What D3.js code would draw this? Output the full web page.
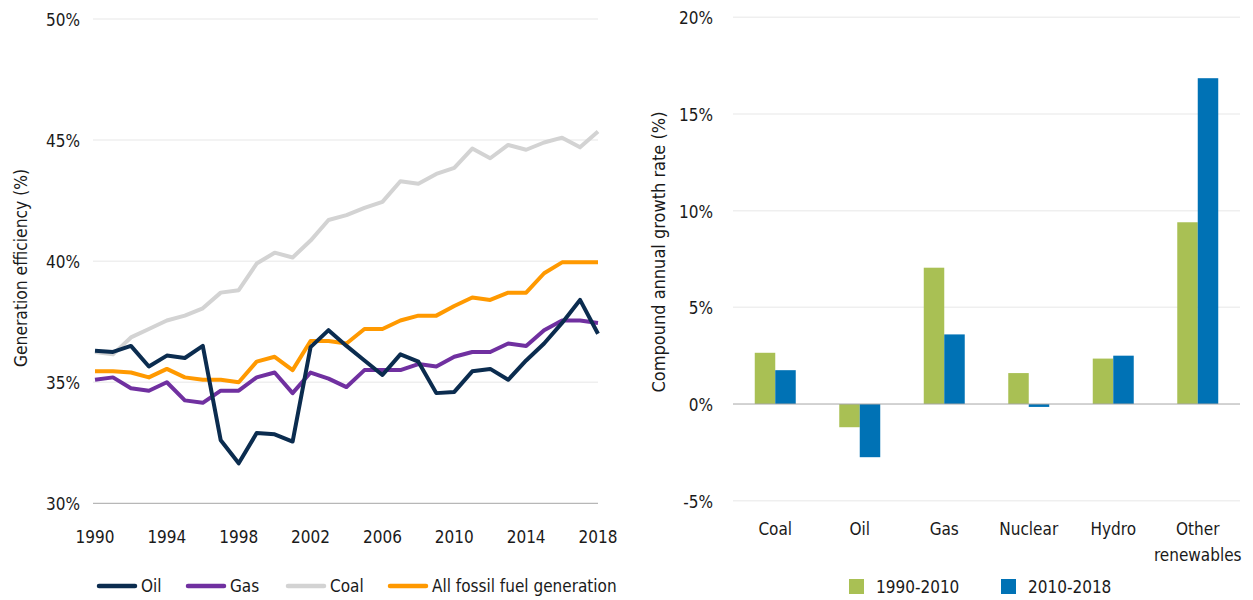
<!DOCTYPE html>
<html>
<head>
<meta charset="utf-8">
<style>
  body { margin: 0; background: #fff; }
  svg { display: block; font-family: "DejaVu Sans Condensed", "Liberation Sans Narrow", sans-serif; }
</style>
</head>
<body>
<svg width="1253" height="600"></svg>
<script src="https://d3js.org/d3.v7.min.js"></script>
<script>
// ---- data: generation efficiency (%) ----
var years = d3.range(1990, 2019);
var oil = [36.3, 36.25, 36.5, 35.65, 36.1, 36.0, 36.5, 32.6, 31.65, 32.9, 32.85, 32.55, 36.45, 37.15,
           36.5, 35.9, 35.3, 36.15, 35.85, 34.55, 34.6, 35.45, 35.55, 35.1, 35.9, 36.6, 37.45, 38.4, 37.0];
var gas = [35.1, 35.2, 34.75, 34.65, 35.0, 34.25, 34.15, 34.65, 34.65, 35.2, 35.4, 34.55, 35.4, 35.15,
           34.8, 35.5, 35.5, 35.5, 35.75, 35.65, 36.05, 36.25, 36.25, 36.6, 36.5, 37.15, 37.55, 37.55, 37.45];
var coal = [36.25, 36.15, 36.85, 37.2, 37.55, 37.75, 38.05, 38.7, 38.8, 39.9, 40.35, 40.15, 40.85, 41.7,
            41.9, 42.2, 42.45, 43.3, 43.2, 43.6, 43.85, 44.65, 44.25, 44.8, 44.6, 44.9, 45.1, 44.7, 45.35];
var fossil = [35.45, 35.45, 35.4, 35.2, 35.55, 35.2, 35.1, 35.1, 35.0, 35.85, 36.05, 35.5, 36.7, 36.7,
              36.6, 37.2, 37.2, 37.55, 37.75, 37.75, 38.15, 38.5, 38.4, 38.7, 38.7, 39.5, 39.95, 39.95, 39.95];
var yearTicks = [1990, 1994, 1998, 2002, 2006, 2010, 2014, 2018];
var effTicks = [30, 35, 40, 45, 50];

// ---- data: compound annual growth rate (%) ----
var sources = ["Coal", "Oil", "Gas", "Nuclear", "Hydro", "Other renewables"];
var periods = ["1990-2010", "2010-2018"];
var growth9010 = [2.65, -1.2, 7.05, 1.6, 2.35, 9.4];
var growth1018 = [1.75, -2.75, 3.6, -0.15, 2.5, 16.85];
var growthTicks = [-5, 0, 5, 10, 15, 20];

var svg = d3.select("svg");
var fontSize = 17;
var textColor = "#1a1a1a";

// ================= left chart =================
var x = d3.scaleLinear().domain([1990, 2018]).range([95, 598]);
var y = d3.scaleLinear().domain([30, 50]).range([503.3, 19]);

var gl = svg.append("g");

gl.selectAll("line.grid")
  .data(effTicks.filter(function(d) { return d > 30; }))
  .enter().append("line")
    .attr("x1", 93).attr("x2", 598)
    .attr("y1", function(d) { return y(d); })
    .attr("y2", function(d) { return y(d); })
    .attr("stroke", "#efefef")
    .attr("stroke-width", 1.5);

gl.append("line")
    .attr("x1", 93).attr("x2", 598)
    .attr("y1", y(30)).attr("y2", y(30))
    .attr("stroke", "#a6a6a6")
    .attr("stroke-width", 1);

gl.selectAll("text.ytick")
  .data(effTicks)
  .enter().append("text")
    .attr("x", 80)
    .attr("y", function(d) { return y(d); })
    .attr("dy", "0.42em")
    .attr("text-anchor", "end")
    .attr("font-size", fontSize)
    .attr("fill", textColor)
    .text(function(d) { return d + "%"; });

gl.selectAll("text.xtick")
  .data(yearTicks)
  .enter().append("text")
    .attr("x", function(d) { return x(d); })
    .attr("y", 543)
    .attr("text-anchor", "middle")
    .attr("font-size", fontSize)
    .attr("fill", textColor)
    .text(function(d) { return d; });

gl.append("text")
    .attr("transform", "translate(27,268) rotate(-90)")
    .attr("text-anchor", "middle")
    .attr("font-size", 17.3)
    .attr("fill", textColor)
    .text("Generation efficiency (%)");

var lineSeries = [
  { name: "Coal", values: coal, color: "#d3d3d3" },
  { name: "All fossil fuel generation", values: fossil, color: "#ff9900" },
  { name: "Gas", values: gas, color: "#7030a0" },
  { name: "Oil", values: oil, color: "#0b2c4f" }
];

var line = d3.line()
    .x(function(d, i) { return x(years[i]); })
    .y(function(d) { return y(d); });

gl.selectAll("path.series")
  .data(lineSeries)
  .enter().append("path")
    .attr("fill", "none")
    .attr("stroke", function(d) { return d.color; })
    .attr("stroke-width", 4)
    .attr("stroke-linejoin", "round")
    .attr("d", function(d) { return line(d.values); });

// legend
var legendItems = [
  { name: "Oil", color: "#0b2c4f", x: 99 },
  { name: "Gas", color: "#7030a0", x: 188 },
  { name: "Coal", color: "#d3d3d3", x: 288 },
  { name: "All fossil fuel generation", color: "#ff9900", x: 390 }
];
var lg = gl.selectAll("g.leg")
  .data(legendItems)
  .enter().append("g")
    .attr("transform", function(d) { return "translate(" + d.x + ",586)"; });
lg.append("line")
    .attr("x1", 0).attr("x2", 36)
    .attr("stroke", function(d) { return d.color; })
    .attr("stroke-width", 4.5)
    .attr("stroke-linecap", "round");
lg.append("text")
    .attr("x", 42)
    .attr("y", 6)
    .attr("font-size", fontSize)
    .attr("fill", textColor)
    .text(function(d) { return d.name; });

// ================= right chart =================
var x0 = d3.scaleBand().domain(sources).range([733, 1240]).paddingInner(0.515).paddingOuter(0.2575);
var x1 = d3.scaleBand().domain(periods).range([0, x0.bandwidth()]);
var y2 = d3.scaleLinear().domain([-5, 20]).range([500.7, 17.3]);
var barColors = d3.scaleOrdinal().domain(periods).range(["#a9c054", "#0072b5"]);

var gr = svg.append("g");

gr.selectAll("line.grid")
  .data(growthTicks.filter(function(d) { return d !== 0; }))
  .enter().append("line")
    .attr("x1", 733).attr("x2", 1240)
    .attr("y1", function(d) { return y2(d); })
    .attr("y2", function(d) { return y2(d); })
    .attr("stroke", "#efefef")
    .attr("stroke-width", 1.5);

gr.selectAll("text.ytick")
  .data(growthTicks)
  .enter().append("text")
    .attr("x", 713)
    .attr("y", function(d) { return y2(d); })
    .attr("dy", "0.42em")
    .attr("text-anchor", "end")
    .attr("font-size", fontSize)
    .attr("fill", textColor)
    .text(function(d) { return d + "%"; });

gr.append("text")
    .attr("transform", "translate(665,252) rotate(-90)")
    .attr("text-anchor", "middle")
    .attr("font-size", 18)
    .attr("fill", textColor)
    .text("Compound annual growth rate (%)");

var barData = [];
sources.forEach(function(s, i) {
  barData.push({ source: s, period: periods[0], value: growth9010[i] });
  barData.push({ source: s, period: periods[1], value: growth1018[i] });
});

gr.selectAll("rect.bar")
  .data(barData)
  .enter().append("rect")
    .attr("x", function(d) { return x0(d.source) + x1(d.period); })
    .attr("width", x1.bandwidth())
    .attr("y", function(d) { return y2(Math.max(0, d.value)); })
    .attr("height", function(d) { return Math.abs(y2(d.value) - y2(0)); })
    .attr("fill", function(d) { return barColors(d.period); });

gr.append("line")
    .attr("x1", 733).attr("x2", 1240)
    .attr("y1", y2(0)).attr("y2", y2(0))
    .attr("stroke", "#a6a6a6")
    .attr("stroke-width", 1);

// category labels (wrap "Other renewables")
gr.selectAll("text.cat")
  .data(sources)
  .enter().append("text")
    .attr("x", function(d) { return x0(d) + x0.bandwidth() / 2; })
    .attr("y", 535)
    .attr("text-anchor", "middle")
    .attr("font-size", fontSize)
    .attr("fill", textColor)
    .each(function(d) {
      var words = d === "Other renewables" ? ["Other", "renewables"] : [d];
      var t = d3.select(this);
      words.forEach(function(w, k) {
        t.append("tspan")
          .attr("x", x0(d) + x0.bandwidth() / 2)
          .attr("dy", k === 0 ? 0 : 26)
          .text(w);
      });
    });

var rLegend = [
  { name: periods[0], x: 849 },
  { name: periods[1], x: 1001 }
];
var rl = gr.selectAll("g.rleg")
  .data(rLegend)
  .enter().append("g")
    .attr("transform", function(d) { return "translate(" + d.x + ",579)"; });
rl.append("rect")
    .attr("width", 15).attr("height", 15)
    .attr("fill", function(d) { return barColors(d.name); });
rl.append("text")
    .attr("x", 27)
    .attr("y", 14)
    .attr("font-size", fontSize)
    .attr("fill", textColor)
    .text(function(d) { return d.name; });
</script>
</body>
</html>
